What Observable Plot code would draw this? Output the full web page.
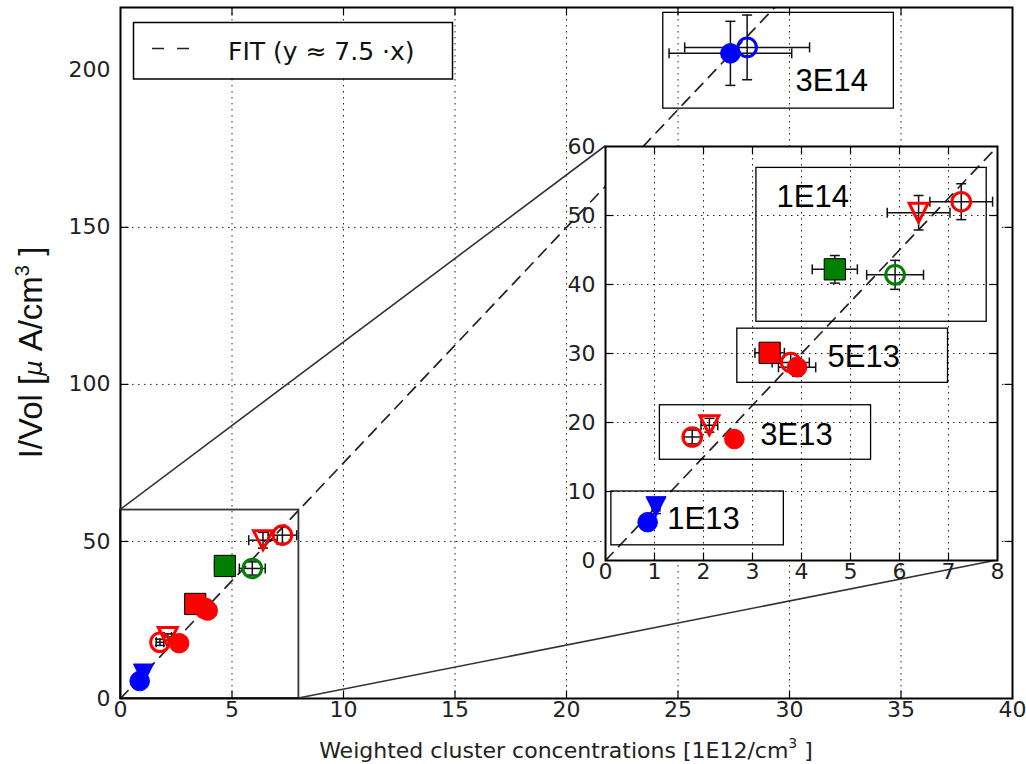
<!DOCTYPE html>
<html><head><meta charset="utf-8">
<script src="https://cdn.jsdelivr.net/npm/d3@7"></script>
<script src="https://cdn.jsdelivr.net/npm/@observablehq/plot@0.6"></script>
<style>
body{margin:0;background:#fff;}
#chart{position:relative;width:1026px;height:764px;overflow:hidden;}
#chart svg{position:absolute;overflow:visible;}
</style></head><body><div id="chart"></div>
<script>
// ---- data ----
const fluence  = ["1E13","1E13","3E13","3E13","3E13","5E13","5E13","5E13","1E14","1E14","1E14","1E14","3E14","3E14"];
const conc     = [0.86, 1.03, 1.77, 2.12, 2.63, 3.35, 3.78, 3.91, 4.68, 5.91, 6.39, 7.26, 27.35, 28.1];
const concErr  = [0.07, 0.08, 0.17, 0.17, 0.15, 0.30, 0.38, 0.38, 0.46, 0.58, 0.64, 0.64, 2.75, 2.8];
const current  = [5.55, 7.8, 17.9, 19.6, 17.6, 30.1, 28.7, 28.0, 42.2, 41.4, 50.4, 52.0, 205.4, 207.3];
const currErr  = [0.8, 1.0, 1.0, 1.0, 0.6, 1.2, 1.3, 1.3, 2.0, 2.1, 2.5, 2.6, 10.2, 10.3];
const shape    = ["circle","triangle-down","circle","triangle-down","circle","square","circle","circle","square","circle","triangle-down","circle","circle","circle"];
const colorKey = ["blue","blue","red","red","red","red","red","red","green","green","red","red","blue","blue"];
const filled   = [true,true,false,false,true,true,false,true,true,false,false,false,true,false];

const fitSlope = 7.5;
const fitLabel = "FIT (y \u2248 7.5 \u00b7x)";

// group annotation boxes (data units of their panel)
const boxPanel = ["inset","inset","inset","inset","main"];
const boxLabel = ["1E13","3E13","5E13","1E14","3E14"];
const boxX1 = [0.12, 1.11, 2.69, 3.08, 24.34];
const boxX2 = [3.64, 5.42, 6.99, 7.78, 34.68];
const boxY1 = [2.2, 14.6, 25.75, 34.6, 187.8];
const boxY2 = [10.0, 22.5, 33.6, 56.9, 218.3];
const labX  = [1.26, 3.16, 4.53, 3.49, 30.27];
const labY  = [4.5, 16.8, 28.0, 51.2, 193.4];

const mainXDomain = [0, 40], mainYDomain = [0, 220];
const zoomX = [0, 8], zoomY = [0, 60];
const mainXTicks = [0,5,10,15,20,25,30,35,40];
const mainYTicks = [0,50,100,150,200];
const insetXTicks = [0,1,2,3,4,5,6,7,8];
const insetYTicks = [0,10,20,30,40,50,60];

const xTitle = "Weighted cluster concentrations [1E12/cm";
const yTitle = "I/Vol [";

// ---- styles ----
const palette = {blue:"#0000ff", red:"#ff0000", green:"#007f00"};
const tickFont = "DejaVu Sans";
const labFont = "Liberation Sans";

const rows = conc.map((x,i)=>({x, y: current[i], xe: concErr[i], ye: currErr[i], shape: shape[i],
  color: palette[colorKey[i]], filled: filled[i], group: fluence[i]}));
const boxes = boxLabel.map((l,i)=>({panel: boxPanel[i], label:l, x1: boxX1[i], x2: boxX2[i], y1: boxY1[i], y2: boxY2[i], tx: labX[i], ty: labY[i]}));

const hCap = {draw(c){c.moveTo(-5,0);c.lineTo(5,0);}};
const vCap = {draw(c){c.moveTo(0,-5);c.lineTo(0,5);}};
const triDown = {draw(c,size){const s=Math.sqrt(size/Math.PI);c.moveTo(0,s);c.lineTo(-s,-s);c.lineTo(s,-s);c.closePath();}};
const TL = 8;
const tk = (dx,dy)=>({draw(c){c.moveTo(0,0);c.lineTo(dx,dy);}});

function edgeTicks(xs, ys){
  const st = {fill:"none", stroke:"#000", strokeWidth:1.2};
  const ix = xs.slice(1,-1), iy = ys.slice(1,-1);
  return [
    Plot.dot(ix,{x:d=>d, frameAnchor:"bottom", symbol:tk(0,-TL), ...st}),
    Plot.dot(ix,{x:d=>d, frameAnchor:"top", symbol:tk(0,TL), ...st}),
    Plot.dot(iy,{y:d=>d, frameAnchor:"left", symbol:tk(TL,0), ...st}),
    Plot.dot(iy,{y:d=>d, frameAnchor:"right", symbol:tk(-TL,0), ...st})
  ];
}
function tickLabels(xs, ys){
  const st = {fontSize:22, fontFamily:tickFont, fill:"#222"};
  return [
    Plot.text(xs,{x:d=>d, frameAnchor:"bottom", dy:18, text:d=>String(d), ...st}),
    Plot.text(ys,{y:d=>d, frameAnchor:"left", dx:-10, textAnchor:"end", text:d=>String(d), ...st})
  ];
}
function grid(xs, ys){
  const st = {stroke:"#222", strokeWidth:1, strokeDasharray:"1.5,4.5"};
  return [Plot.ruleX(xs.slice(1,-1), st), Plot.ruleY(ys.slice(1,-1), st)];
}
function fitLine(dom){
  const pts = dom.map(x=>({x, y: fitSlope*x}));
  return Plot.line(pts,{x:"x", y:"y", stroke:"#222", strokeWidth:1.7, strokeDasharray:"11,8", clip:true});
}
function errMarks(r){
  const st = {stroke:"#111", strokeWidth:1.5};
  return [
    Plot.ruleX(r,{x:"x", y1:d=>d.y-d.ye, y2:d=>d.y+d.ye, ...st}),
    Plot.ruleY(r,{y:"y", x1:d=>d.x-d.xe, x2:d=>d.x+d.xe, ...st}),
    Plot.dot(r,{x:"x", y:d=>d.y-d.ye, symbol:hCap, fill:"none", ...st}),
    Plot.dot(r,{x:"x", y:d=>d.y+d.ye, symbol:hCap, fill:"none", ...st}),
    Plot.dot(r,{x:d=>d.x-d.xe, y:"y", symbol:vCap, fill:"none", ...st}),
    Plot.dot(r,{x:d=>d.x+d.xe, y:"y", symbol:vCap, fill:"none", ...st})
  ];
}
function markerMarks(r){
  const sym = {circle:"circle", square:"square", "triangle-down":triDown};
  const rr = {circle:9.8, square:12, "triangle-down":10};
  const m = [];
  for (const s of ["square","triangle-down","circle"]) {
    m.push(Plot.dot(r.filter(d=>d.shape===s && d.filled),{x:"x", y:"y", symbol:sym[s], r:rr[s],
      fill:d=>d.color, stroke: s==="square" ? "#000" : (d=>d.color), strokeWidth:1}));
  }
  for (const s of ["triangle-down","circle"]) {
    m.push(Plot.dot(r.filter(d=>d.shape===s && !d.filled),{x:"x", y:"y", symbol:sym[s], r:rr[s]*0.95,
      fill:"none", stroke:d=>d.color, strokeWidth:3}));
  }
  return m;
}
function boxMarks(b){
  return [
    Plot.rect(b,{x1:"x1", x2:"x2", y1:"y1", y2:"y2", fill:"none", stroke:"#000", strokeWidth:1.3}),
    Plot.text(b,{x:"tx", y:"ty", text:"label", textAnchor:"start", lineAnchor:"bottom", fontSize:31, fontFamily:labFont, fill:"#000"})
  ];
}

// ---- main plot ----
const main = Plot.plot({
  width:1026, height:764, marginLeft:120, marginRight:14, marginTop:7, marginBottom:66,
  x:{domain:mainXDomain, axis:null}, y:{domain:mainYDomain, axis:null},
  color:{type:"identity"},
  style:{background:"transparent", overflow:"visible"},
  marks:[
    ...grid(mainXTicks, mainYTicks),
    fitLine(mainXDomain),
    Plot.rect([{}],{x1:zoomX[0], x2:zoomX[1], y1:zoomY[0], y2:zoomY[1], fill:"none", stroke:"#333", strokeWidth:1.8}),
    ...errMarks(rows),
    ...markerMarks(rows),
    ...boxMarks(boxes.filter(d=>d.panel==="main")),
    ...edgeTicks(mainXTicks, mainYTicks),
    ...tickLabels(mainXTicks, mainYTicks),
    Plot.frame({stroke:"#000", strokeWidth:2})
  ]
});

// ---- inset ----
const insetPos = {left:560, top:136};
const inset = Plot.plot({
  width:447, height:459, marginLeft:45, marginRight:10, marginTop:10, marginBottom:35,
  x:{domain:zoomX, axis:null}, y:{domain:zoomY, axis:null},
  color:{type:"identity"},
  style:{background:"transparent", overflow:"visible"},
  marks:[
    Plot.frame({fill:"#fff", stroke:"none"}),
    ...grid(insetXTicks, insetYTicks),
    fitLine(zoomX),
    ...boxMarks(boxes.filter(d=>d.panel==="inset")),
    ...errMarks(rows.filter(d=>d.x<=zoomX[1] && d.y<=zoomY[1])),
    ...markerMarks(rows.filter(d=>d.x<=zoomX[1] && d.y<=zoomY[1])),
    ...edgeTicks(insetXTicks, insetYTicks),
    ...tickLabels(insetXTicks, insetYTicks),
    Plot.frame({stroke:"#000", strokeWidth:2})
  ]
});

const chart = document.getElementById("chart");
main.style.left = "0px"; main.style.top = "0px";
inset.style.left = insetPos.left + "px"; inset.style.top = insetPos.top + "px";
chart.appendChild(main);
chart.appendChild(inset);

// ---- connectors (mark_inset style), derived from both plots' scales ----
const mx = main.scale("x"), my = main.scale("y"), ix = inset.scale("x"), iy = inset.scale("y");
const svg = d3.select(main);
const conn = [
  [zoomX[0], zoomY[1]],
  [zoomX[1], zoomY[0]]
];
for (const [a,b] of conn) {
  svg.append("line")
    .attr("x1", mx.apply(a)).attr("y1", my.apply(b))
    .attr("x2", insetPos.left + ix.apply(a)).attr("y2", insetPos.top + iy.apply(b))
    .attr("stroke","#333").attr("stroke-width",1.6);
}

// ---- legend ----
const fx = mx.apply(mainXDomain[0]), fy = my.apply(mainYDomain[1]);
const lg = svg.append("g").attr("transform",`translate(${fx},${fy})`);
lg.append("rect").attr("x",13.5).attr("y",15.5).attr("width",319).attr("height",56.5)
  .attr("fill","#fff").attr("stroke","#000").attr("stroke-width",1.5);
lg.append("line").attr("x1",32).attr("x2",72).attr("y1",41.5).attr("y2",41.5)
  .attr("stroke","#222").attr("stroke-width",1.6).attr("stroke-dasharray","12,13");
lg.append("text").attr("x",108).attr("y",53).attr("text-anchor","start").attr("font-family",tickFont).attr("font-size",25)
  .attr("fill","#111").text(fitLabel);

// ---- axis titles ----
const xt = svg.append("text").attr("x",(mx.apply(mainXDomain[0])+mx.apply(mainXDomain[1]))/2).attr("y",758)
  .attr("text-anchor","middle").attr("font-family",tickFont).attr("font-size",22).attr("fill","#222");
xt.append("tspan").text(xTitle);
xt.append("tspan").attr("font-size",14).attr("dy",-10).text("3");
xt.append("tspan").attr("dy",10).text(" ]");

const yc = (my.apply(mainYDomain[0])+my.apply(mainYDomain[1]))/2;
const yt = svg.append("text").attr("transform",`translate(42,${yc}) rotate(-90)`)
  .attr("text-anchor","middle").attr("font-family",labFont).attr("font-size",33).attr("fill","#111");
yt.append("tspan").text(yTitle);
yt.append("tspan").attr("font-family","DejaVu Sans").attr("font-style","italic").attr("font-size",24).text("\u03bc");
yt.append("tspan").text(" A/cm");
yt.append("tspan").attr("font-size",20).attr("dy",-13).text("3");
yt.append("tspan").attr("dy",13).text(" ]");
</script></body></html>
